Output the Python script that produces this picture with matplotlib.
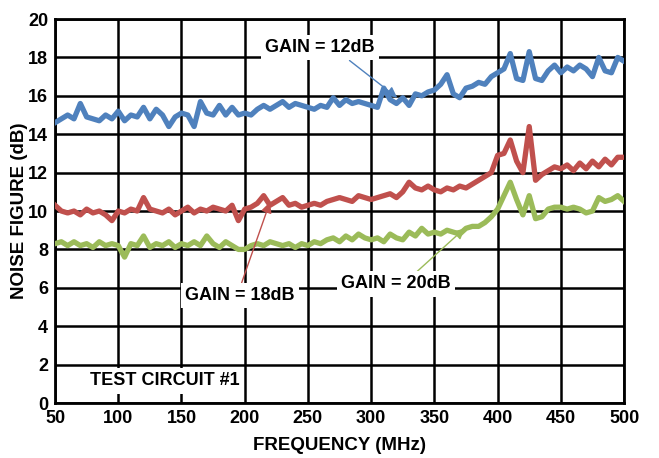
import numpy as np
import matplotlib
matplotlib.use("Agg")
import matplotlib.pyplot as plt

# frequency axis, 5 MHz steps
freq = np.arange(50, 505, 5)

nf_gain12 = [14.6, 14.8, 15.0, 14.8, 15.6, 14.9, 14.8, 14.7, 15.0, 14.8,
             15.2, 14.7, 15.0, 14.9, 15.4, 14.8, 15.3, 15.0, 14.4, 14.9,
             15.1, 15.0, 14.4, 15.7, 15.1, 15.0, 15.5, 15.0, 15.4, 15.0,
             15.1, 15.0, 15.3, 15.5, 15.3, 15.5, 15.7, 15.4, 15.6, 15.5,
             15.4, 15.3, 15.5, 15.4, 15.9, 15.5, 15.8, 15.6, 15.7, 15.6,
             15.5, 15.4, 16.4, 15.8, 15.6, 15.9, 15.5, 16.1, 16.0, 16.2,
             16.3, 16.6, 17.1, 16.1, 15.9, 16.4, 16.5, 16.7, 16.6, 17.0,
             17.2, 17.4, 18.2, 16.9, 16.8, 18.3, 16.9, 16.8, 17.3, 17.6,
             17.2, 17.5, 17.3, 17.6, 17.4, 17.0, 18.0, 17.3, 17.2, 18.0,
             17.8]

nf_gain18 = [10.3, 10.0, 9.9, 10.0, 9.8, 10.1, 9.9, 10.0, 9.8, 9.5,
             10.0, 9.9, 10.1, 10.0, 10.7, 10.1, 10.0, 9.9, 10.1, 9.8,
             10.0, 10.2, 9.9, 10.1, 10.0, 10.2, 10.1, 10.0, 10.3, 9.5,
             10.1, 10.2, 10.4, 10.8, 10.3, 10.5, 10.7, 10.3, 10.4, 10.2,
             10.3, 10.4, 10.3, 10.5, 10.6, 10.7, 10.6, 10.5, 10.8, 10.7,
             10.6, 10.7, 10.8, 10.9, 10.7, 11.0, 11.5, 11.2, 11.1, 11.3,
             11.1, 11.0, 11.2, 11.1, 11.3, 11.2, 11.4, 11.6, 11.8, 12.0,
             12.9, 13.0, 13.7, 12.6, 12.0, 14.4, 11.6, 11.9, 12.1, 12.3,
             12.2, 12.4, 12.1, 12.5, 12.2, 12.6, 12.3, 12.7, 12.4, 12.8,
             12.8]

nf_gain20 = [8.3, 8.4, 8.2, 8.4, 8.2, 8.3, 8.1, 8.4, 8.2, 8.3,
             8.2, 7.6, 8.3, 8.2, 8.7, 8.1, 8.3, 8.2, 8.4, 8.1,
             8.3, 8.2, 8.4, 8.2, 8.7, 8.3, 8.1, 8.4, 8.2, 8.0,
             8.0, 8.2, 8.3, 8.2, 8.4, 8.3, 8.2, 8.3, 8.1, 8.3,
             8.2, 8.4, 8.3, 8.5, 8.6, 8.4, 8.7, 8.5, 8.8, 8.6,
             8.5, 8.6, 8.4, 8.8, 8.6, 8.5, 8.9, 8.7, 9.1, 8.8,
             8.9, 8.8, 9.0, 8.9, 8.8, 9.1, 9.2, 9.2, 9.4, 9.7,
             10.1, 10.8, 11.5, 10.6, 9.8, 10.8, 9.6, 9.7, 10.1, 10.2,
             10.2, 10.1, 10.2, 10.1, 9.9, 10.0, 10.7, 10.5, 10.6, 10.8,
             10.5]

c_blue = '#4F81BD'
c_red = '#C0504D'
c_green = '#9BBB59'

plt.rcParams['font.family'] = ['Liberation Sans', 'DejaVu Sans']
plt.rcParams['font.weight'] = 'bold'

fig = plt.figure(figsize=(6.59, 4.58), dpi=100)
ax = fig.add_axes([0.0835, 0.12, 0.8635, 0.8385])

ax.plot(freq, nf_gain12, color=c_blue, lw=3.8, zorder=3)
ax.plot(freq, nf_gain18, color=c_red, lw=3.8, zorder=3)
ax.plot(freq, nf_gain20, color=c_green, lw=3.8, zorder=3)

ax.set_xlim(50, 500)
ax.set_ylim(0, 20)
ax.set_xticks(np.arange(50, 501, 50))
ax.set_yticks(np.arange(0, 21, 2))
ax.grid(True, color='black', lw=1.8, zorder=1)
ax.set_axisbelow(True)
for s in ax.spines.values():
    s.set_linewidth(2)
ax.tick_params(length=0, labelsize=13, pad=5)
for lab in ax.get_xticklabels() + ax.get_yticklabels():
    lab.set_fontweight('bold')

ax.set_xlabel('FREQUENCY (MHz)', fontsize=13.5, fontweight='bold', labelpad=7)
ax.set_ylabel('NOISE FIGURE (dB)', fontsize=13.5, fontweight='bold', labelpad=0)

box = dict(facecolor='white', edgecolor='none', pad=3)

ax.annotate('GAIN = 12dB', xy=(320.6, 15.9), xytext=(259.6, 18.5),
            ha='center', va='center', fontsize=13, fontweight='bold',
            bbox=box, zorder=5,
            arrowprops=dict(arrowstyle='-|>', color=c_blue, lw=1,
                            mutation_scale=16, shrinkA=0, shrinkB=0,
                            relpos=(0.72, 0.0)))
ax.annotate('GAIN = 18dB', xy=(220, 10.47), xytext=(196.4, 5.6),
            ha='center', va='center', fontsize=13, fontweight='bold',
            bbox=box, zorder=5,
            arrowprops=dict(arrowstyle='-|>', color=c_red, lw=1,
                            mutation_scale=16, shrinkA=0, shrinkB=0,
                            relpos=(0.5, 1.0)))
ax.annotate('GAIN = 20dB', xy=(374, 9.1), xytext=(319.8, 6.2),
            ha='center', va='center', fontsize=13, fontweight='bold',
            bbox=box, zorder=5,
            arrowprops=dict(arrowstyle='-|>', color=c_green, lw=1,
                            mutation_scale=16, shrinkA=0, shrinkB=0,
                            relpos=(0.65, 1.0)))
ax.text(78, 1.15, 'TEST CIRCUIT #1', ha='left', va='center', fontsize=13,
        fontweight='bold', bbox=box, zorder=5)

fig.savefig('out.png', dpi=100)
